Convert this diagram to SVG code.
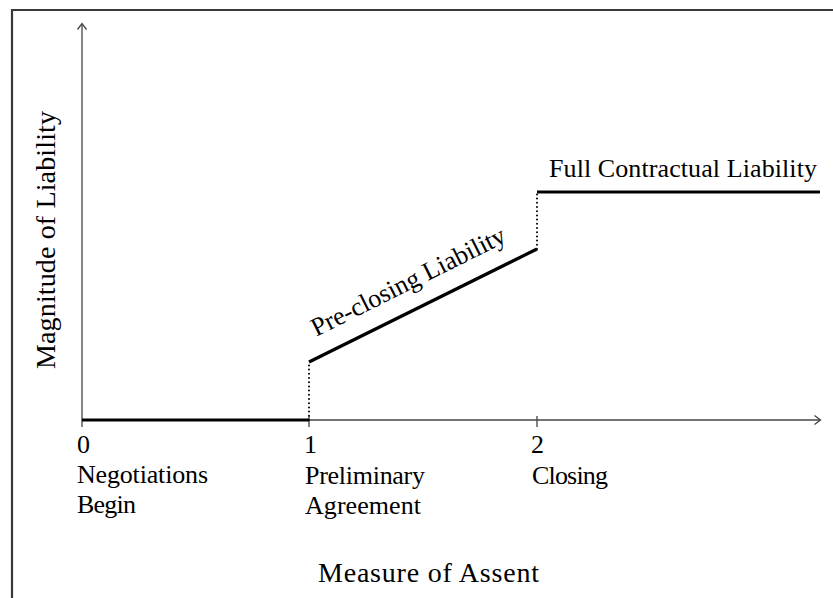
<svg xmlns="http://www.w3.org/2000/svg" width="833" height="598" viewBox="0 0 833 598">
  <style>
    text { font-family: "Liberation Serif", "Times New Roman", serif; fill: #000; }
    .lbl { font-size: 26px; }
    .axlbl { font-size: 28px; }
    .axis { stroke: #444; stroke-width: 1.3; fill: none; }
    .thick { stroke: #000; stroke-width: 3.2; fill: none; stroke-linecap: butt; }
    .dot { stroke: #000; stroke-width: 2; stroke-dasharray: 0 4.2; stroke-linecap: round; fill: none; }
    .frame { stroke: #3a3a3a; stroke-width: 2.2; fill: none; }
  </style>
  <rect width="833" height="598" fill="#fff"/>
  <g id="frame">
    <path class="frame" d="M12 610 V10 H845"/>
  </g>
  <g id="axes">
    <path class="axis" d="M82 420 V24"/>
    <path class="axis" d="M77.5 29.5 L82 23.5 L86.5 29.5"/>
    <path class="axis" d="M82 420 H820"/>
    <path class="axis" d="M814.5 415.5 L820.5 420 L814.5 424.5"/>
    <path class="axis" d="M309 416 V427 M537 416 V427 M82 420 V427"/>
    <text class="axlbl" x="318" y="582" textLength="221" lengthAdjust="spacing">Measure of Assent</text>
    <text class="axlbl" transform="translate(55,240) rotate(-90)" text-anchor="middle" textLength="258" lengthAdjust="spacing">Magnitude of Liability</text>
  </g>
  <g id="tick-0">
    <text class="lbl" x="77" y="453">0</text>
    <text class="lbl" x="77" y="483" textLength="131">Negotiations</text>
    <text class="lbl" x="77" y="513" textLength="59">Begin</text>
  </g>
  <g id="tick-1">
    <text class="lbl" x="304" y="453">1</text>
    <text class="lbl" x="305" y="484" textLength="120">Preliminary</text>
    <text class="lbl" x="305" y="514" textLength="116">Agreement</text>
  </g>
  <g id="tick-2">
    <text class="lbl" x="531" y="453">2</text>
    <text class="lbl" x="532" y="484" textLength="76">Closing</text>
  </g>
  <g id="connectors">
    <path class="thick" d="M82 420 H309"/>
    <path class="dot" d="M309 420 V362"/>
    <path class="thick" d="M309 362 L537 249"/>
    <path class="dot" d="M537 249 V192"/>
    <path class="thick" d="M537 192 H820"/>
  </g>
  <g id="pre-closing">
    <text class="lbl" transform="translate(412,289) rotate(-26.57)" text-anchor="middle" textLength="214" lengthAdjust="spacing">Pre-closing Liability</text>
  </g>
  <g id="full-contractual">
    <text class="lbl" x="549" y="177" textLength="268" lengthAdjust="spacing">Full Contractual Liability</text>
  </g>
</svg>
